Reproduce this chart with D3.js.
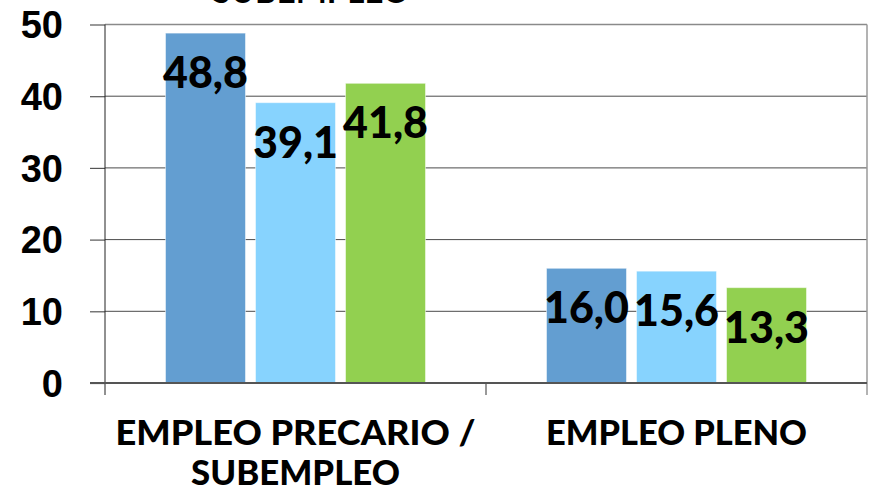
<!DOCTYPE html>
<html>
<head>
<meta charset="utf-8">
<script src="https://cdn.jsdelivr.net/npm/d3@7"></script>
<style>
  body { margin: 0; background: #fff; }
  svg { display: block; }
</style>
</head>
<body>
<svg id="chart" width="876" height="494"></svg>
<script>
// data
const categories = ["EMPLEO PRECARIO / SUBEMPLEO", "EMPLEO PLENO"];
const categoryLines = [["EMPLEO PRECARIO /", "SUBEMPLEO"], ["EMPLEO PLENO"]];
const seriesNames = ["s1", "s2", "s3"];
const seriesColors = ["#639ed1", "#87d3fe", "#92d050"];
const values = [
  [48.8, 39.1, 41.8],
  [16.0, 15.6, 13.3]
];
const yTicks = [0, 10, 20, 30, 40, 50];

const marginLeft = 105;
const marginRight = 9;
const marginTop = 24.5;
const plotBottom = 383;
const width = 876 - marginLeft - marginRight;
const height = plotBottom - marginTop;

const svg = d3.select("#chart");

const xScale = d3.scaleBand()
    .domain(categories)
    .range([0, width])
    .padding(0);

const xInner = d3.scaleBand()
    .domain(seriesNames)
    .range([0, xScale.bandwidth()])
    .paddingInner(10 / 90)
    .paddingOuter(0.672);

const yScale = d3.scaleLinear()
    .domain([0, 50])
    .range([height, 0]);

const chart = svg.append("g")
    .attr("transform", `translate(${marginLeft}, ${marginTop})`);

// clipped title at the very top (only its lower edge shows)
svg.append("text")
    .attr("x", 311)
    .attr("y", 3)
    .attr("text-anchor", "middle")
    .attr("font-family", "Lato")
    .attr("font-weight", "bold")
    .attr("font-size", 35)
    .attr("textLength", 197)
    .attr("lengthAdjust", "spacingAndGlyphs")
    .text("SUBEMPLEO");

// gridlines
chart.selectAll(".grid")
    .data(yTicks.filter(d => d > 0))
    .enter().append("line")
    .attr("class", "grid")
    .attr("x1", 0)
    .attr("x2", width)
    .attr("y1", d => yScale(d))
    .attr("y2", d => yScale(d))
    .attr("stroke", d => d === 50 ? "#8a8a8a" : "#4a4a4a")
    .attr("stroke-width", d => d === 50 ? 1.5 : 1);

// right border
chart.append("line")
    .attr("x1", width).attr("x2", width)
    .attr("y1", 0).attr("y2", height + 12)
    .attr("stroke", "#9a9a9a")
    .attr("stroke-width", 1.5);

// y axis
const yAxis = chart.append("g")
    .call(d3.axisLeft(yScale).tickValues(yTicks).tickSize(15).tickFormat(""));
yAxis.select(".domain").remove();
yAxis.selectAll("line").attr("stroke", "#555").attr("stroke-width", 1.2);

chart.append("line")
    .attr("x1", 0).attr("x2", 0)
    .attr("y1", 0).attr("y2", height + 12)
    .attr("stroke", "#222")
    .attr("stroke-width", 1);

chart.selectAll(".ylab")
    .data(yTicks)
    .enter().append("text")
    .attr("class", "ylab")
    .attr("x", 63 - marginLeft)
    .attr("y", d => yScale(d))
    .attr("dy", "0.36em")
    .attr("text-anchor", "end")
    .attr("font-family", "Liberation Sans, Arial, sans-serif")
    .attr("font-weight", "bold")
    .attr("font-size", 38)
    .attr("fill", "#000")
    .text(d => d);

// bars
const groups = chart.selectAll(".cat")
    .data(categories)
    .enter().append("g")
    .attr("class", "cat")
    .attr("transform", d => `translate(${xScale(d)}, 0)`);

groups.selectAll(".bar")
    .data((d, i) => values[i].map((v, j) => ({ s: seriesNames[j], v: v, c: seriesColors[j] })))
    .enter().append("rect")
    .attr("class", "bar")
    .attr("x", d => xInner(d.s))
    .attr("y", d => yScale(d.v))
    .attr("width", xInner.bandwidth())
    .attr("height", d => height - yScale(d.v))
    .attr("fill", d => d.c)
    .attr("stroke", "rgba(255,255,255,0.5)")
    .attr("stroke-width", 1);

// bottom axis
chart.append("line")
    .attr("x1", -15).attr("x2", width)
    .attr("y1", height).attr("y2", height)
    .attr("stroke", "#555")
    .attr("stroke-width", 2);

chart.selectAll(".xtick")
    .data(categories.slice(1))
    .enter().append("line")
    .attr("class", "xtick")
    .attr("x1", d => xScale(d)).attr("x2", d => xScale(d))
    .attr("y1", height).attr("y2", height + 12)
    .attr("stroke", "#555")
    .attr("stroke-width", 1.2);

// value labels
groups.selectAll(".val")
    .data((d, i) => values[i].map((v, j) => ({ s: seriesNames[j], v: v })))
    .enter().append("text")
    .attr("class", "val")
    .attr("x", d => xInner(d.s) + xInner.bandwidth() / 2)
    .attr("y", d => yScale(d.v) + 55)
    .attr("text-anchor", "middle")
    .attr("font-family", "Lato")
    .attr("font-weight", 900)
    .attr("font-size", 43)
    .attr("fill", "#000")
    .text(d => d3.format(".1f")(d.v).replace(".", ","));

// category labels
const labelWidths = [[360, 209], [261]];
groups.each(function(d, i) {
    const g = d3.select(this);
    categoryLines[i].forEach((line, k) => {
        g.append("text")
            .attr("x", xScale.bandwidth() / 2)
            .attr("y", 445 - marginTop + k * 40)
            .attr("text-anchor", "middle")
            .attr("font-family", "Lato")
            .attr("font-weight", 900)
            .attr("font-size", 34)
            .attr("textLength", labelWidths[i][k])
            .attr("lengthAdjust", "spacingAndGlyphs")
            .attr("fill", "#000")
            .text(line);
    });
});
</script>
</body>
</html>
